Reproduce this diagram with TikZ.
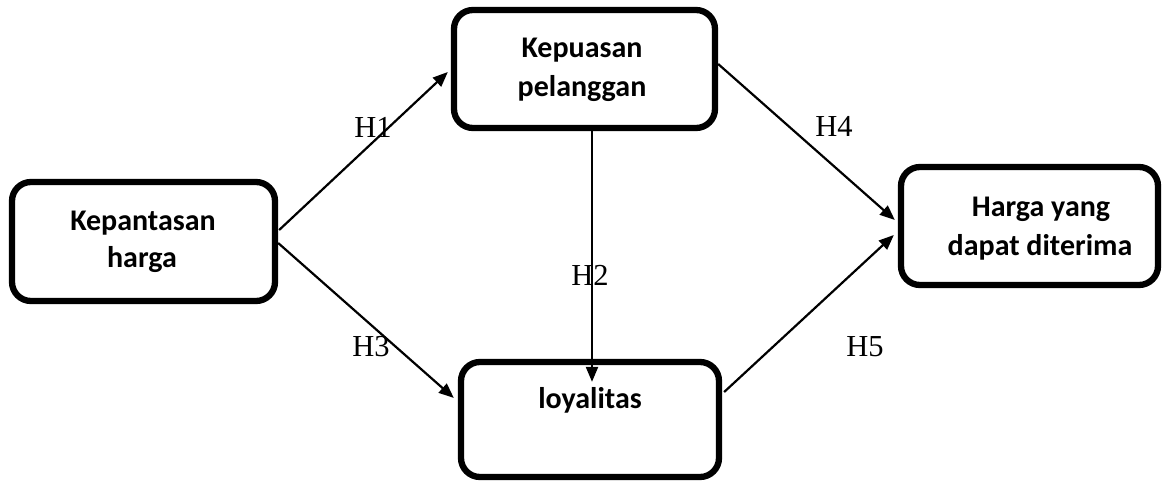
\documentclass[tikz,border=0pt]{standalone}
\usepackage{fontspec}
\setmainfont{Liberation Serif}
\newfontfamily\boxfont{Carlito}
\usetikzlibrary{arrows.meta,calc}
\tikzset{
  box/.style={draw, line width=6.3pt, rounded corners=19pt, inner sep=0pt},
  boxtext/.style={anchor=base, inner sep=0pt, font=\boxfont\bfseries\fontsize{30}{36}\selectfont},
  hlabel/.style={inner sep=0pt, font=\fontsize{30.5}{36}\selectfont},
  link/.style={line width=2.2pt, -{Triangle[length=15pt,width=12pt]}}
}
\begin{document}
\begin{tikzpicture}[x=1pt,y=-1pt]
\useasboundingbox (0,0) rectangle (1162,481);
% boxes
\node[box, minimum width=263pt, minimum height=119pt] (kh) at (143.5,241.5) {};
\node[box, minimum width=261pt, minimum height=118pt] (kp) at (584.5,69) {};
\node[box, minimum width=257pt, minimum height=118pt] (hd) at (1029.5,226) {};
\node[box, minimum width=258pt, minimum height=115pt] (ly) at (590,419.5) {};
% box texts
\node[boxtext] (t1a) at (143,230) {Kepantasan};
\node[boxtext] (t1b) at (142,268) {harga};
\node[boxtext] (t2a) at (582,58) {Kepuasan};
\node[boxtext] (t2b) at (582,97) {pelanggan};
\node[boxtext] (t3a) at (1041,217) {Harga yang};
\node[boxtext] (t3b) at (1040,255) {dapat diterima};
\node[boxtext] (t4a) at (590,408) {loyalitas};
% connectors
\draw[link] ($(kh.east)+(1,-11.5)$) -- ($(kp.west)+(-3,3)$);
\draw[link] ($(kh.east)+(0,1.5)$) -- ($(ly.west)+(-4,-21.5)$);
\draw[link] ($(kp.south)+(7.5,-3)$) -- ($(ly.north)+(2,23)$);
\draw[link] ($(kp.east)+(0,-5)$) -- ($(hd.west)+(-3,-6)$);
\draw[link] ($(ly.east)+(2,-27.5)$) -- ($(hd.west)+(-4,9)$);
% labels
\node[hlabel] (l1) at (373,127) {H1};
\node[hlabel] (l2) at (590,275) {H2};
\node[hlabel] (l3) at (371,347) {H3};
\node[hlabel] (l4) at (834,126) {H4};
\node[hlabel] (l5) at (865,347) {H5};
\end{tikzpicture}
\end{document}
